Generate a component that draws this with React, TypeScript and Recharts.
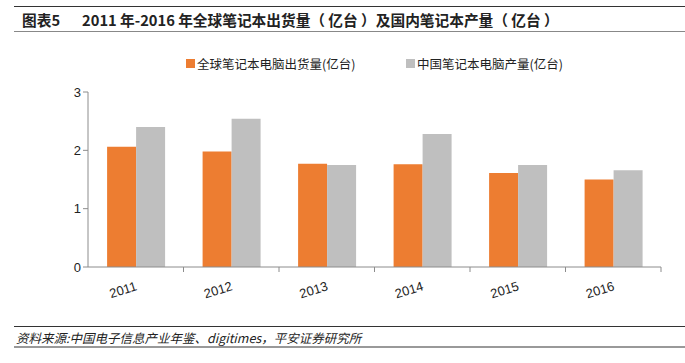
import { Bar, BarChart, XAxis, YAxis } from 'recharts'

const years = ['2011', '2012', '2013', '2014', '2015', '2016']
const globalShipments = [2.06, 1.98, 1.77, 1.76, 1.61, 1.5]
const chinaOutput = [2.4, 2.54, 1.75, 2.28, 1.75, 1.66]
const yTicks = [0, 1, 2, 3]

const SERIES_A = '全球笔记本电脑出货量(亿台)'
const SERIES_B = '中国笔记本电脑产量(亿台)'

const W = 685
const H = 363
const PLOT_LEFT = 88
const PLOT_RIGHT = 661
const BAND = (PLOT_RIGHT - PLOT_LEFT) / years.length
const AXIS = '#8c8c8c'
const numFont = '"Liberation Sans", Arial, sans-serif'
const cjkFont = '"Noto Sans CJK SC", "Liberation Sans", sans-serif'

function YearTick({ x, y, payload }: any) {
  const ax = x + 2
  const ay = y + 15
  return (
    <g>
      <line x1={x + BAND / 2} y1={y - 8} x2={x + BAND / 2} y2={y - 3} stroke={AXIS} />
      <text
        x={ax}
        y={ay}
        textAnchor="end"
        transform={`rotate(-17, ${ax}, ${ay})`}
        fontSize={13}
        fontFamily={numFont}
        fill="#222"
      >
        {payload.value}
      </text>
    </g>
  )
}

function LegendBox() {
  const item = (color: string, label: string, left: number) => (
    <div style={{ position: 'absolute', left, top: 0, display: 'flex', alignItems: 'center' }}>
      <span style={{ width: 9, height: 9, background: color, display: 'inline-block', marginRight: 2 }} />
      <span style={{ fontSize: 12.5, color: '#222', fontFamily: cjkFont }}>{label}</span>
    </div>
  )
  return (
    <div style={{ position: 'absolute', left: 0, top: 54, width: W, height: 18 }}>
      {item('#ED7D31', SERIES_A, 186)}
      {item('#BFBFBF', SERIES_B, 406)}
    </div>
  )
}

export default function App() {
  const data = years.map((y, i) => ({ year: y, [SERIES_A]: globalShipments[i], [SERIES_B]: chinaOutput[i] }))

  return (
    <div style={{ position: 'absolute', left: 0, top: 0, width: W, height: H, background: '#fff', overflow: 'hidden' }}>
      <div style={{ position: 'absolute', left: 14, right: 0, top: 6, borderTop: '1.5px solid #333' }} />
      <div
        style={{
          position: 'absolute',
          left: 22,
          top: 9,
          fontSize: 14.7,
          fontWeight: 'bold',
          fontFamily: cjkFont,
          color: '#222',
          whiteSpace: 'nowrap',
        }}
      >
        <span>图表5</span>
        <span style={{ marginLeft: 22 }}>2011 年-2016 年全球笔记本出货量（ 亿台 ）及国内笔记本产量（ 亿台 ）</span>
      </div>
      <div style={{ position: 'absolute', left: 14, right: 0, top: 31, borderTop: '1.5px solid #888' }} />

      <LegendBox />

      <div style={{ position: 'absolute', left: 0, top: 0 }}>
        <BarChart
          width={W}
          height={H}
          data={data}
          margin={{ top: 92, right: W - PLOT_RIGHT, left: PLOT_LEFT - 30, bottom: 66 }}
          barCategoryGap="20%"
          barGap={0}
        >
          <YAxis
            width={30}
            domain={[0, 3]}
            ticks={yTicks}
            tickLine={{ stroke: AXIS }}
            tickSize={5}
            axisLine={{ stroke: AXIS }}
            tick={{ fontSize: 13, fill: '#222', fontFamily: numFont }}
          />
          <XAxis
            dataKey="year"
            height={30}
            tickLine={false}
            axisLine={{ stroke: AXIS }}
            tick={<YearTick />}
            interval={0}
          />
          <Bar dataKey={SERIES_A} fill="#ED7D31" isAnimationActive={false} />
          <Bar dataKey={SERIES_B} fill="#BFBFBF" isAnimationActive={false} />
        </BarChart>
      </div>

      <div style={{ position: 'absolute', left: 14, right: 0, top: 326, borderTop: '1.5px solid #333' }} />
      <div
        style={{
          position: 'absolute',
          left: 16,
          top: 328,
          fontSize: 12.5,
          fontStyle: 'italic',
          fontFamily: cjkFont,
          color: '#222',
          whiteSpace: 'nowrap',
        }}
      >
        资料来源:中国电子信息产业年鉴、digitimes，平安证券研究所
      </div>
      <div style={{ position: 'absolute', left: 14, right: 0, top: 346, borderTop: '2px solid #999' }} />
    </div>
  )
}
